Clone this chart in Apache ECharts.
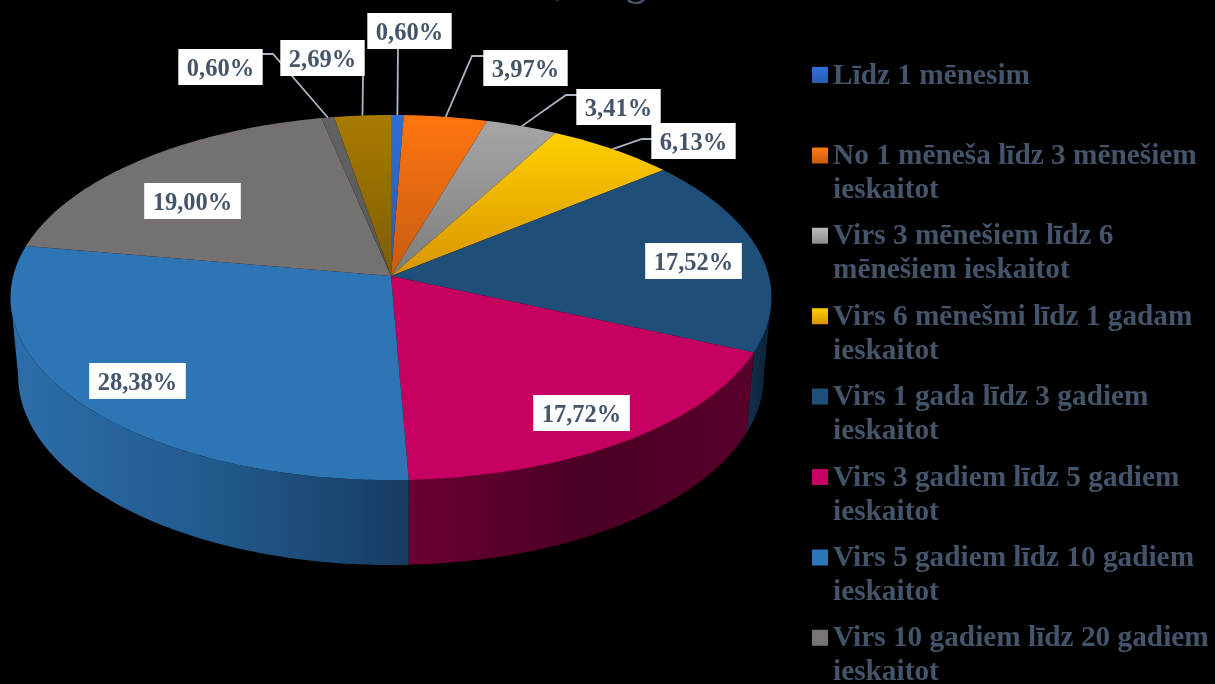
<!DOCTYPE html>
<html>
<head>
<meta charset="utf-8">
<script src="https://cdn.jsdelivr.net/npm/echarts@6/dist/echarts.min.js"></script>
<style>html,body{margin:0;padding:0;background:#000;overflow:hidden}#c{width:1215px;height:684px}</style>
</head>
<body>
<div id="c"></div>
<script>
// ---- data ----
const categories = [
  'Līdz 1 mēnesim',
  'No 1 mēneša līdz 3 mēnešiem ieskaitot',
  'Virs 3 mēnešiem līdz 6 mēnešiem ieskaitot',
  'Virs 6 mēnešmi līdz 1 gadam ieskaitot',
  'Virs 1 gada līdz 3 gadiem ieskaitot',
  'Virs 3 gadiem līdz 5 gadiem ieskaitot',
  'Virs 5 gadiem līdz 10 gadiem ieskaitot',
  'Virs 10 gadiem līdz 20 gadiem ieskaitot',
  'Kategorija 9',
  'Kategorija 10'
];
const values = [0.60, 3.97, 3.41, 6.13, 17.52, 17.72, 28.38, 19.00, 0.60, 2.69];
const legendWrapped = [
  'Līdz 1 mēnesim\n ',
  'No 1 mēneša līdz 3 mēnešiem\nieskaitot',
  'Virs 3 mēnešiem līdz 6\nmēnešiem ieskaitot',
  'Virs 6 mēnešmi līdz 1 gadam\nieskaitot',
  'Virs 1 gada līdz 3 gadiem\nieskaitot',
  'Virs 3 gadiem līdz 5 gadiem\nieskaitot',
  'Virs 5 gadiem līdz 10 gadiem\nieskaitot',
  'Virs 10 gadiem līdz 20 gadiem\nieskaitot'
];

// ---- styles ----
const topColors = [
  ['#2f6ed6', '#2a5cab'], ['#ff7510', '#c65c12'], ['#a6a6a6', '#7d7d7d'], ['#ffcf00', '#d89400'],
  ['#1f4e79', '#1f4e79'], ['#c60060', '#c60060'], ['#2e75b6', '#2e75b6'], ['#767171', '#767171'],
  ['#626262', '#565656'], ['#a87a00', '#7f5d00']
];
const wallStops = [
  ['#1d4a90', '#1d4a90'], ['#8a4510', '#8a4510'], ['#555', '#555'], ['#806000', '#806000'],
  ['#0c2135', '#12304c'], ['#58002a', '#4b0024', '#6b0032'], ['#173c62', '#225a8e', '#2c6eaa'], ['#3a3838', '#3a3838'],
  ['#333', '#333'], ['#504000', '#504000']
];
const legendSwatch = [
  ['#3070dc', '#2a5cb0'], ['#ff7c12', '#c85c10'], ['#bdbdbd', '#8c8c8c'], ['#ffcf00', '#d89400'],
  ['#1f4e79', '#1f4e79'], ['#c60060', '#c60060'], ['#2e75b6', '#2e75b6'], ['#7a7575', '#7a7575']
];
const textColor = '#44546a';

// ---- layout of the projected pie ----
const apex = [391, 276];
const persp = { k: -0.118, a: 180, c: 377.8 };
const base = { sx: 0.98, sy: 1.036, dy: 77.6 };
const labelCentres = [[409.5,31],[525.5,68],[618.5,107],[693.5,141],[693.5,261],[581.5,413],[137.5,381],[192.5,201],[220.5,67],[322.5,58]];
const leaderVia = [[], [[472,56],[484,56]], [[566,95],[577,95]], [[642,139],[652,139]], null, null, null, null, [[273,54],[261,54]], []];
const leaderEnd = [[398,49], null, null, null, null, null, null, null, null, [363,76]];

const total = values.reduce((s, v) => s + v, 0);
const starts = values.map((_, i) => values.slice(0, i).reduce((s, v) => s + v, 0));
const ang = v => v / total * 2 * Math.PI;

function project(t) {
  const x = Math.sin(t), y = -Math.cos(t), d = 1 + persp.k * y;
  return [persp.c * x / d, persp.a * y / d];
}
const toTop = p => [apex[0] + p[0], apex[1] + p[1]];
const toBase = p => [apex[0] + p[0] * base.sx, apex[1] + p[1] * base.sy + base.dy];
function arcBetween(a0, a1) {
  const n = Math.max(2, Math.ceil((a1 - a0) / (Math.PI / 180)));
  const pts = [];
  for (let j = 0; j <= n; j++) pts.push(project(a0 + (a1 - a0) * j / n));
  return pts;
}
const arc = i => arcBetween(ang(starts[i]), ang(starts[i] + values[i]));
// the wall is only seen between the two silhouette angles of the projected ellipse
const silhouette = Math.acos(persp.k);
function wallArc(i) {
  const a0 = Math.max(ang(starts[i]), silhouette);
  const a1 = Math.min(ang(starts[i] + values[i]), 2 * Math.PI - silhouette);
  return a1 > a0 ? arcBetween(a0, a1) : null;
}
const grad = (x2, y2, cols) => new echarts.graphic.LinearGradient(0, 0, x2, y2,
  cols.map((c, j) => ({ offset: cols.length > 1 ? j / (cols.length - 1) : 0, color: c })));

const wallSeries = {
  type: 'custom', name: 'walls', coordinateSystem: 'none', z: 1, silent: true, animation: false,
  data: values,
  renderItem(p) {
    const i = p.dataIndex, a = wallArc(i);
    if (!a) return null;
    return { type: 'polygon', shape: { points: a.map(toTop).concat(a.map(toBase).reverse()) },
      style: { fill: grad(1, 0, wallStops[i].slice().reverse()) } };
  }
};

const topSeries = categories.map((name, i) => ({
  type: 'custom', name, coordinateSystem: 'none', z: 2, animation: false,
  itemStyle: { color: topColors[i][0] },
  data: [values[i]],
  renderItem() {
    return { type: 'polygon', shape: { points: [apex].concat(arc(i).map(toTop)) },
      style: { fill: grad(0, 1, topColors[i]) } };
  }
}));

const labelSeries = {
  type: 'custom', name: 'labels', coordinateSystem: 'none', z: 3, silent: true, animation: false,
  data: values,
  renderItem(p, api) {
    const i = p.dataIndex, v = api.value(0);
    const c = labelCentres[i], kids = [];
    const via = leaderVia[i];
    if (via) {
      const edge = toTop(project(ang(starts[i] + values[i] / 2)));
      const pts = [edge].concat(via);
      if (leaderEnd[i]) pts.push(leaderEnd[i]);
      kids.push({ type: 'polyline', shape: { points: pts },
        style: { stroke: '#a9b6c4', lineWidth: 1.8, fill: null } });
    }
    kids.push({ type: 'text', x: c[0], y: c[1] - 18,
      style: { text: v.toFixed(2).replace('.', ',') + '%', align: 'center', verticalAlign: 'top',
        fontFamily: '"Liberation Serif"', fontWeight: 'bold', fontSize: 24.5, fill: textColor,
        backgroundColor: '#fff', padding: [7, 8.5, 1, 8.5], lineHeight: 28 } });
    return { type: 'group', children: kids };
  }
};

// legend swatch: square in the first line of a two-line box
const H = 68, S0 = 8, S1 = 24;
const icon = `path://M0 0L0.01 0L0 0ZM0 ${S0}L16 ${S0}L16 ${S1}L0 ${S1}ZM0 ${H}L0.01 ${H}L0 ${H}Z`;

const chart = echarts.init(document.getElementById('c'), null, { renderer: 'canvas' });
chart.setOption({
  backgroundColor: '#000',
  animation: false,
  title: { text: ',      g', left: 556, top: -35, padding: 0,
    textStyle: { color: textColor, fontFamily: '"Liberation Serif"', fontWeight: 'bold', fontSize: 40 } },
  legend: {
    orient: 'vertical', left: 812, top: 59, height: 900, padding: 0, itemGap: 12.4,
    itemWidth: 16, itemHeight: H, icon, selectedMode: false,
    textStyle: { color: textColor, fontFamily: '"Liberation Serif"', fontWeight: 'bold', fontSize: 29.3, lineHeight: 34 },
    formatter: n => legendWrapped[categories.indexOf(n)],
    data: legendWrapped.map((_, i) => ({
      name: categories[i], icon,
      itemStyle: { color: new echarts.graphic.LinearGradient(0, 0, 0, 1, [
        { offset: S0 / H, color: legendSwatch[i][0] },
        { offset: S1 / H, color: legendSwatch[i][1] }
      ]) }
    }))
  },
  tooltip: { show: false },
  series: [wallSeries, ...topSeries, labelSeries]
});
</script>
</body>
</html>
